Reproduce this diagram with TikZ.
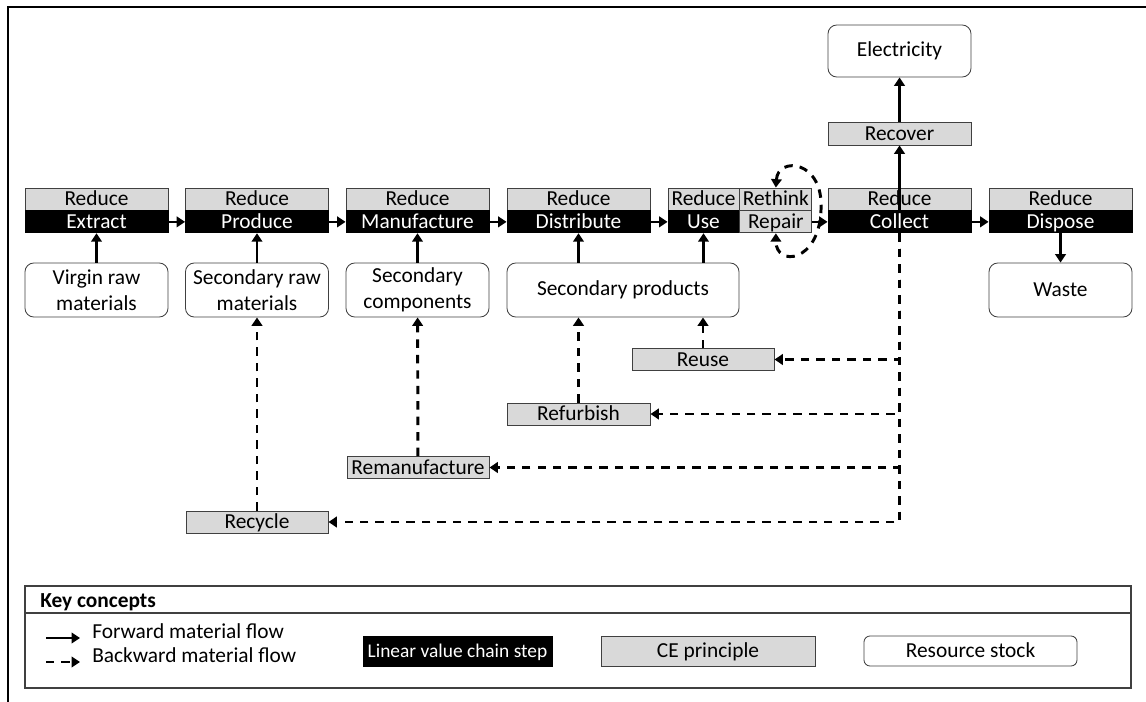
\documentclass[tikz,border=0pt]{standalone}
\usepackage{fontspec}
\setmainfont{Carlito}
\usetikzlibrary{arrows.meta,positioning}

\newcommand{\pxu}{0.025cm}

\tikzset{
  every node/.style={font=\fontsize{15.2}{18.5}\selectfont, inner sep=0pt},
  ceprin/.style={draw=black!75, line width=0.6pt, fill=black!15,
    minimum width=#1*\pxu, minimum height=22*\pxu, text height=9.6pt, text depth=0pt},
  ceprin/.default=143,
  chain/.style={draw=black, line width=0.6pt, fill=black, text=white,
    minimum width=#1*\pxu, minimum height=22*\pxu, text height=9.6pt, text depth=0pt},
  chain/.default=143,
  stock/.style={draw=black!75, line width=0.6pt, fill=white, rounded corners=0.22cm,
    align=center, minimum width=#1*\pxu, minimum height=54*\pxu},
  stock/.default=143,
  fwd/.style={line width=1.9pt, -{Triangle[length=6pt,width=7.5pt]}},
  back/.style={fwd, line width=2.1pt, dash pattern=on 6pt off 5pt},
  legline/.style={draw=black!75, line width=1pt},
  legtxt/.style={anchor=west, text height=9.6pt, text depth=0pt}
}

\begin{document}
\begin{tikzpicture}[x=0.025cm,y=-0.025cm]
\useasboundingbox (0,0) rectangle (1146,702);
\draw[line width=1.4pt] (8,702) -- (8,7) -- (1146,7);

% linear value chain
\node[ceprin] (redext) at (96.5,199) {Reduce};
\node[chain, below=0pt of redext] (extract) {Extract};
\node[ceprin] (redpro) at (257,199) {Reduce};
\node[chain, below=0pt of redpro] (produce) {Produce};
\node[ceprin] (redman) at (417.5,199) {Reduce};
\node[chain, below=0pt of redman] (manufacture) {Manufacture};
\node[ceprin] (reddis) at (578.5,199) {Reduce};
\node[chain, below=0pt of reddis] (distribute) {Distribute};
\node[ceprin=71] (reduse) at (703.5,199) {Reduce};
\node[chain=71, below=0pt of reduse] (use) {Use};
\node[ceprin=72, right=0pt of reduse] (rethink) {Rethink};
\node[ceprin=72, below=0pt of rethink] (repair) {Repair};
\node[ceprin] (redcol) at (899.5,199) {Reduce};
\node[chain, below=0pt of redcol] (collect) {Collect};
\node[ceprin] (reddsp) at (1060.5,199) {Reduce};
\node[chain, below=0pt of reddsp] (dispose) {Dispose};

% resource stocks
\node[stock] (virgin) at (96.5,290) {Virgin raw\\materials};
\node[stock] (secraw) at (257,290) {Secondary raw\\materials};
\node[stock] (seccomp) at (417.5,290) {Secondary\\components};
\node[stock=232] (secprod) at (623,290) {Secondary products};
\node[stock] (waste) at (1060.5,290) {Waste};
\node[stock, minimum height=52*\pxu] (electricity) at (899.5,51) {Electricity};

% CE principles
\node[ceprin, minimum height=23*\pxu] (recover) at (899.5,133.5) {Recover};
\node[ceprin=142] (reuse) at (703,359.5) {Reuse};
\node[ceprin] (refurbish) at (578.5,414) {Refurbish};
\node[ceprin=142] (remanuf) at (418,467.5) {Remanufacture};
\node[ceprin=142] (recycle) at (257,522) {Recycle};

% forward flow
\draw[fwd] (extract) -- (produce);
\draw[fwd] (produce) -- (manufacture);
\draw[fwd] (manufacture) -- (distribute);
\draw[fwd] (distribute) -- (use);
\draw[fwd] (repair) -- (collect);
\draw[fwd] (collect) -- (dispose);
\draw[fwd] (virgin) -- (extract);
\draw[fwd] (secraw) -- (produce);
\draw[fwd] (seccomp) -- (manufacture);
\draw[fwd] (distribute |- secprod.north) -- (distribute.south);
\draw[fwd] (use |- secprod.north) -- (use.south);
\draw[fwd] (dispose) -- (waste);
\draw[fwd] (collect) -- (recover);
\draw[fwd] (recover) -- (electricity);

% backward flow
\draw[back] (collect.south) |- (reuse);
\draw[back] (collect.south) |- (refurbish);
\draw[back] (collect.south) |- (remanuf);
\draw[back] (collect.south) |- (recycle);
\draw[back] (reuse) -- (reuse |- secprod.south);
\draw[back] (refurbish) -- (refurbish |- secprod.south);
\draw[back] (remanuf) -- (seccomp);
\draw[back] (recycle) -- (secraw);
\draw[back, {Triangle[length=6pt,width=7.5pt]}-{Triangle[length=6pt,width=7.5pt]}]
  (rethink.north) .. controls (778,156) and (824,160) .. (821,210)
  .. controls (819,263) and (776,267) .. (repair.south);

% key concepts
\draw[legline] (25,586) rectangle (1131,688);
\draw[legline] (25,613) -- (1131,613);
\node[legtxt, font=\fontsize{15.2}{18.5}\selectfont\bfseries] (keytitle) at (40,600.5) {Key concepts};
\node[legtxt] (fwdtxt) at (92,632) {Forward material flow};
\node[legtxt] (backtxt) at (92,656) {Backward material flow};
\coordinate (fwda) at (46,638);
\coordinate (fwdb) at (80,638);
\coordinate (backa) at (46,662);
\coordinate (backb) at (80,662);
\draw[fwd] (fwda) -- (fwdb);
\draw[back] (backa) -- (backb);
\node[chain, minimum width=189*\pxu, minimum height=30*\pxu, font=\fontsize{13.8}{16}\selectfont] (legchain) at (457.5,651) {Linear value chain step};
\node[ceprin, minimum width=214*\pxu, minimum height=30*\pxu] (legce) at (708,651) {CE principle};
\node[stock, minimum width=213*\pxu, minimum height=30*\pxu, rounded corners=0.15cm, text height=9.6pt, text depth=0pt] (legstock) at (970.5,651) {Resource stock};
\end{tikzpicture}
\end{document}
